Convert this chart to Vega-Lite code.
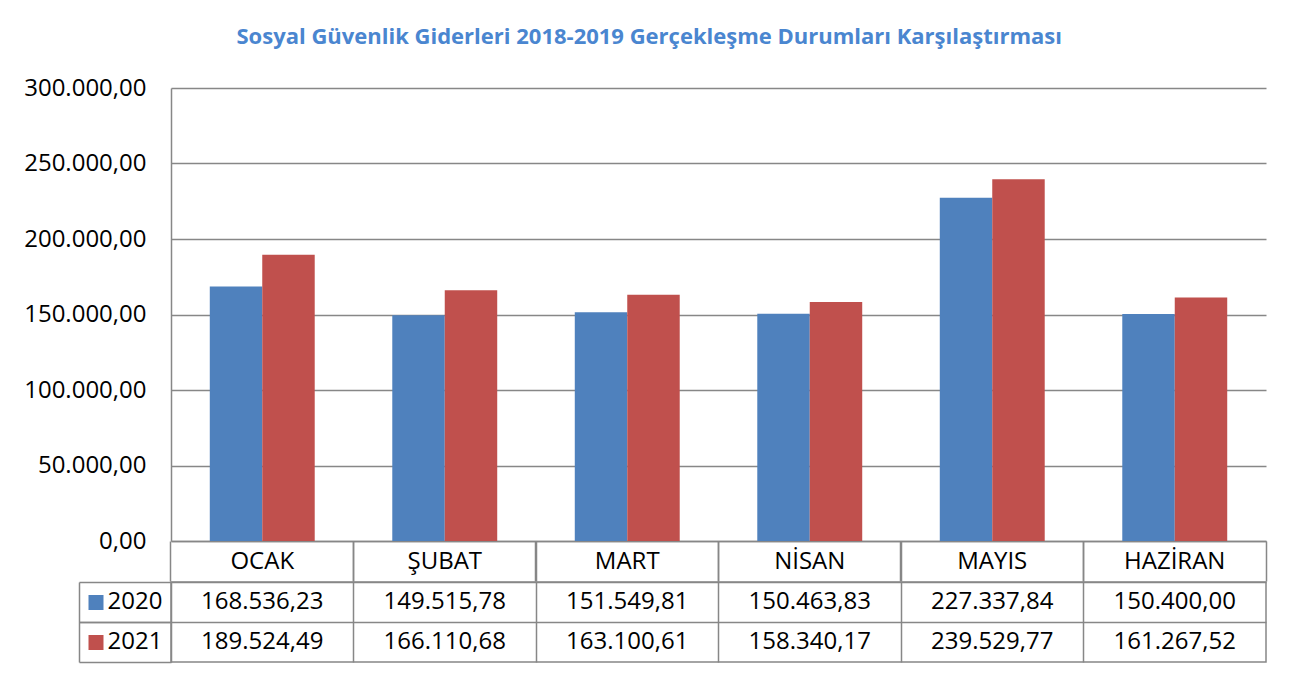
{
  "$schema": "https://vega.github.io/schema/vega-lite/v6.json",
  "background": "white",
  "padding": {"left": 23, "top": 26, "right": 20, "bottom": 10},
  "title": {
    "text": "Sosyal Güvenlik Giderleri 2018-2019 Gerçekleşme Durumları Karşılaştırması",
    "font": "Open Sans", "fontSize": 22, "fontWeight": "bold", "color": "#4a86d0",
    "anchor": "middle", "offset": 27, "dx": 4
  },
  "data": {"values": [
    {"month": "OCAK", "year": "2020", "value": 168536.23},
    {"month": "ŞUBAT", "year": "2020", "value": 149515.78},
    {"month": "MART", "year": "2020", "value": 151549.81},
    {"month": "NİSAN", "year": "2020", "value": 150463.83},
    {"month": "MAYIS", "year": "2020", "value": 227337.84},
    {"month": "HAZİRAN", "year": "2020", "value": 150400.00},
    {"month": "OCAK", "year": "2021", "value": 189524.49},
    {"month": "ŞUBAT", "year": "2021", "value": 166110.68},
    {"month": "MART", "year": "2021", "value": 163100.61},
    {"month": "NİSAN", "year": "2021", "value": 158340.17},
    {"month": "MAYIS", "year": "2021", "value": 239529.77},
    {"month": "HAZİRAN", "year": "2021", "value": 161267.52}
  ]},
  "spacing": -3,
  "vconcat": [
    {
      "width": 1095, "height": 453,
      "view": {"stroke": null},
      "layer": [
        {
          "mark": {"type": "bar"},
          "encoding": {
            "x": {"field": "month", "type": "nominal",
              "sort": ["OCAK", "ŞUBAT", "MART", "NİSAN", "MAYIS", "HAZİRAN"],
              "scale": {"type": "band", "paddingInner": 0.425, "paddingOuter": 0.2125},
              "axis": {"orient": "bottom", "title": null, "bandPosition": -0.3696, "labelOffset": 0,
                "tickSize": 40, "tickColor": "#878787", "tickWidth": 1.5,
                "domainColor": "#878787", "domainWidth": 1.5,
                "labelBaseline": "middle", "labelPadding": -20, "labelAngle": 0,
                "labelFontSize": 24, "labelFont": "Open Sans", "labelColor": "black"}},
            "xOffset": {"field": "year", "type": "nominal", "scale": {"paddingInner": 0, "paddingOuter": 0}},
            "y": {"field": "value", "type": "quantitative",
              "scale": {"domain": [0, 300000]},
              "axis": {"title": null, "values": [0, 50000, 100000, 150000, 200000, 250000, 300000],
                "format": ",.2f", "ticks": false, "labelPadding": 25,
                "labelFontSize": 24, "labelFont": "Open Sans", "labelColor": "black",
                "grid": true, "gridColor": "#878787", "gridWidth": 1.5,
                "domain": true, "domainColor": "#878787", "domainWidth": 1.5}},
            "color": {"field": "year", "type": "nominal",
              "scale": {"domain": ["2020", "2021"], "range": ["#4f81bd", "#c0504d"]}, "legend": null}
          }
        },
        {
          "mark": {"type": "text", "opacity": 0},
          "encoding": {
            "x": {"field": "month", "type": "nominal",
              "sort": ["OCAK", "ŞUBAT", "MART", "NİSAN", "MAYIS", "HAZİRAN"],
              "axis": {"orient": "bottom", "title": null, "bandPosition": 1.3696, "tickSize": 40,
                "tickColor": "#878787", "tickWidth": 1.5, "labels": false, "domain": false}},
            "text": {"field": "year"}
          }
        }
      ],
      "resolve": {"axis": {"x": "independent"}}
    },
    {
      "width": 1095, "height": 80,
      "view": {"stroke": "#878787", "strokeWidth": 1.5},
      "layer": [
        {
          "mark": {"type": "text", "font": "Open Sans", "fontSize": 24, "color": "black"},
          "encoding": {
            "x": {"field": "month", "type": "nominal",
              "sort": ["OCAK", "ŞUBAT", "MART", "NİSAN", "MAYIS", "HAZİRAN"],
              "scale": {"type": "band", "paddingInner": 0, "paddingOuter": 0},
              "axis": {"title": null, "bandPosition": 0, "grid": true, "gridColor": "#878787", "gridWidth": 1.5,
                "ticks": false, "labels": false, "domain": false}},
            "y": {"field": "year", "type": "nominal",
              "scale": {"type": "band", "paddingInner": 0, "paddingOuter": 0},
              "axis": {"orient": "left", "title": null, "bandPosition": 0,
                "grid": true, "gridColor": "#878787", "gridWidth": 1.5,
                "ticks": true, "tickSize": 92, "tickColor": "#878787", "tickWidth": 1.5,
                "labelOffset": 0, "labelPadding": -83, "labelBaseline": "middle",
                "labelFontSize": 24, "labelFont": "Open Sans", "labelColor": "black",
                "domain": false}},
            "text": {"field": "value", "type": "quantitative", "format": ",.2f"}
          }
        },
        {
          "mark": {"type": "text", "opacity": 0},
          "encoding": {
            "y": {"field": "year", "type": "nominal",
              "axis": {"orient": "left", "title": null, "offset": 68,
                "ticks": true, "tickSize": 15, "tickWidth": 15,
                "tickColor": {"condition": {"test": "datum.value === '2020'", "value": "#4f81bd"}, "value": "#c0504d"},
                "labels": false, "domain": false, "grid": false}},
            "text": {"field": "year"}
          }
        },
        {
          "mark": {"type": "text", "opacity": 0},
          "encoding": {
            "y": {"field": "year", "type": "nominal",
              "axis": {"orient": "left", "title": null, "bandPosition": 1,
                "ticks": true, "tickSize": 92, "tickColor": "#878787", "tickWidth": 1.5,
                "labels": false, "domain": false, "grid": false}},
            "text": {"field": "year"}
          }
        },
        {
          "mark": {"type": "text", "opacity": 0},
          "encoding": {
            "y": {"field": "year", "type": "nominal",
              "axis": {"orient": "left", "title": null, "offset": 92,
                "ticks": false, "labels": false, "grid": false,
                "domain": true, "domainColor": "#878787", "domainWidth": 1.5}},
            "text": {"field": "year"}
          }
        }
      ],
      "resolve": {"axis": {"y": "independent"}}
    }
  ],
  "config": {
    "font": "Open Sans",
    "locale": {"number": {"decimal": ",", "thousands": ".", "grouping": [3], "currency": ["", " ₺"]}}
  }
}
